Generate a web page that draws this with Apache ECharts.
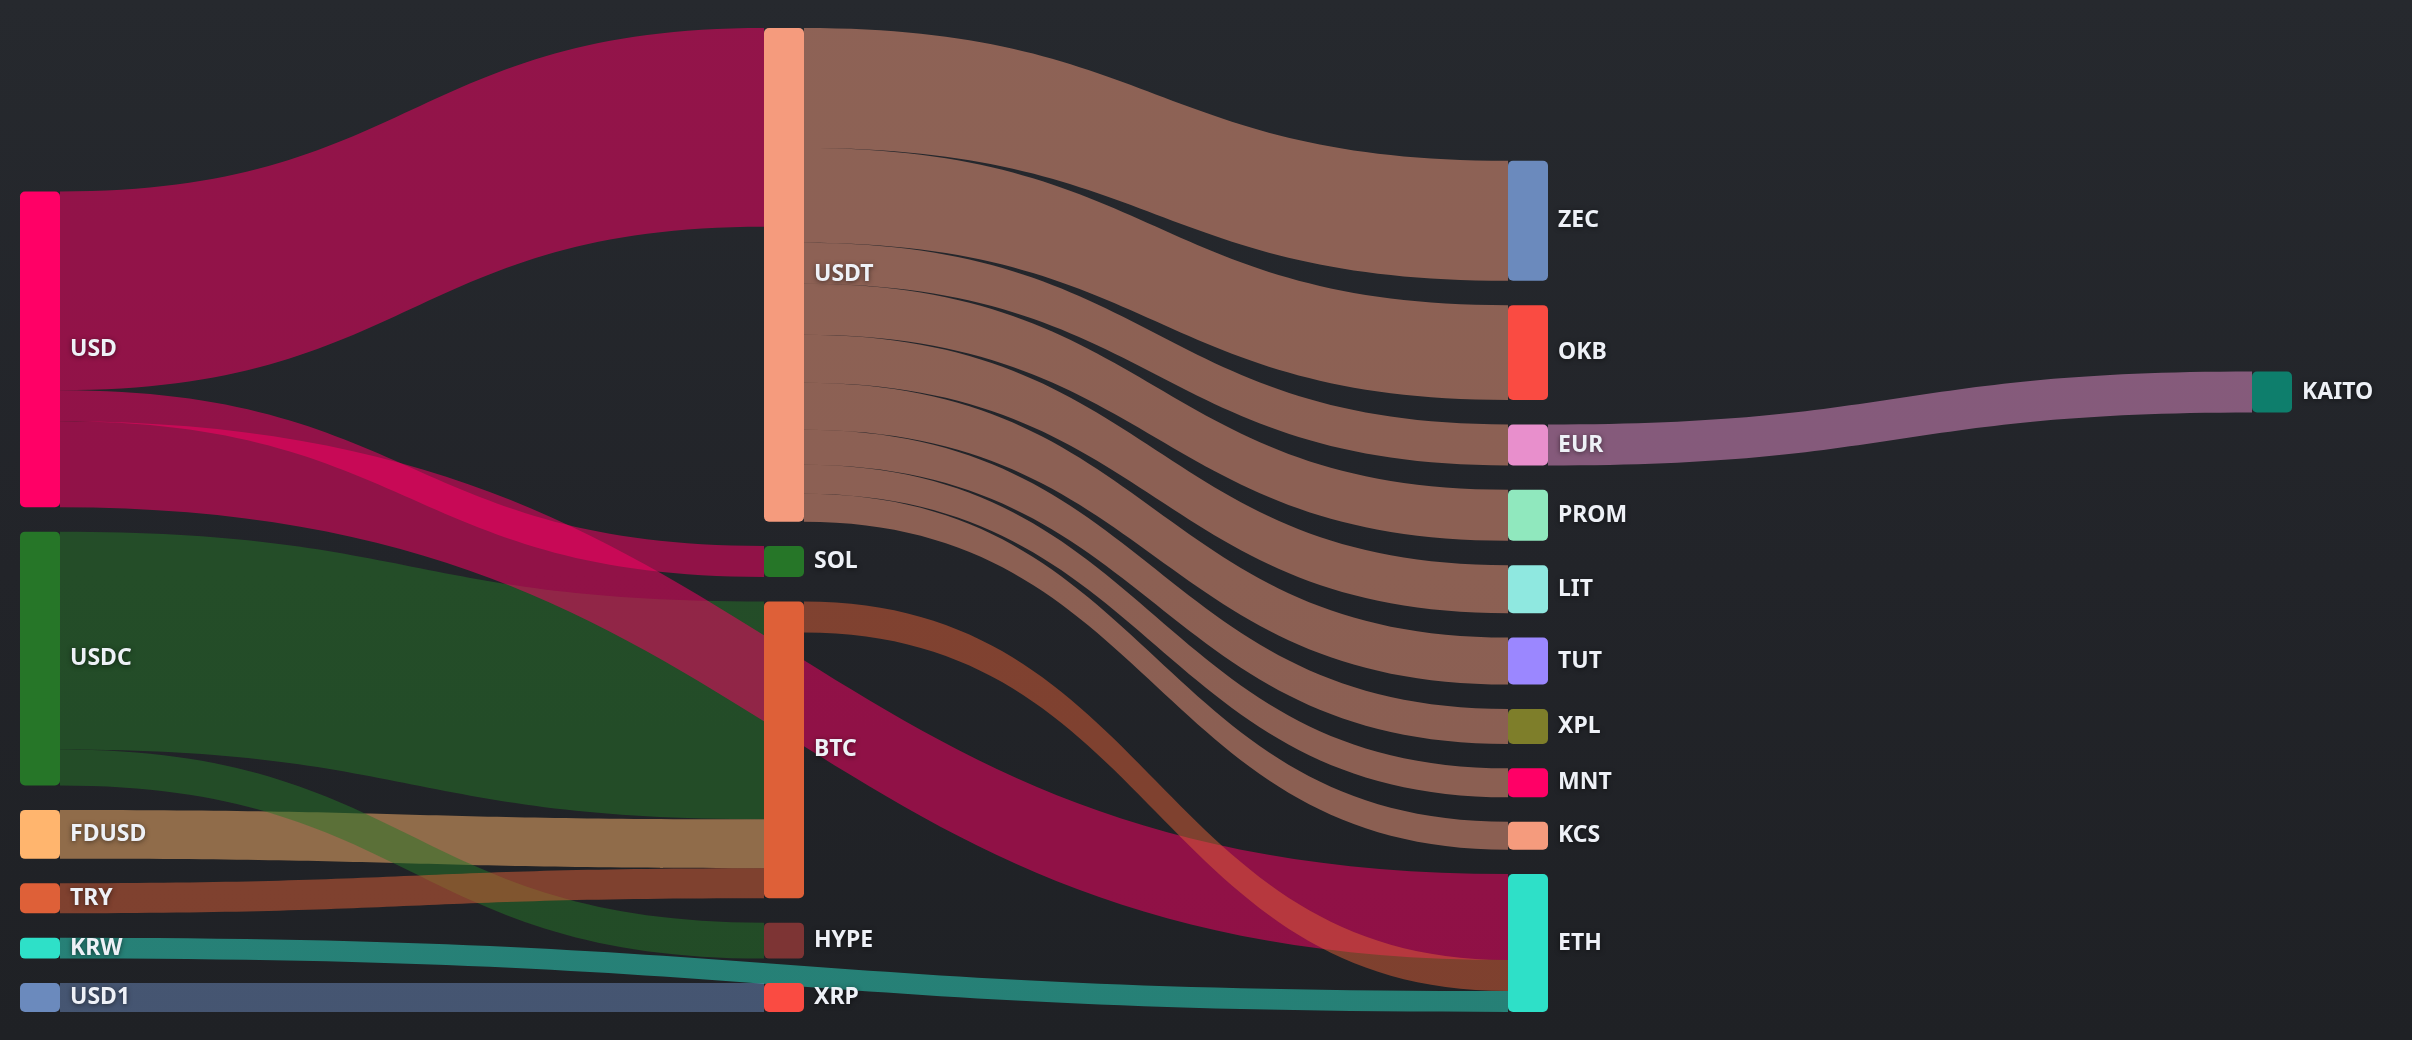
<!DOCTYPE html>
<html>
<head>
<meta charset="utf-8">
<title>Sankey</title>
<script src="https://cdn.jsdelivr.net/npm/echarts@6/dist/echarts.min.js"></script>
<style>
html, body { margin: 0; padding: 0; }
#main {
	width: 2412px;
	height: 1040px;
	background: linear-gradient(to bottom, #26292e 0%, #222429 55%, #1f2125 100%);
}
</style>
</head>
<body>
<div id="main"></div>
<script>
// 节点（按列顺序）
var nodeNames = ['USD', 'USDC', 'FDUSD', 'TRY', 'KRW', 'USD1',
	'USDT', 'SOL', 'BTC', 'HYPE', 'XRP',
	'ZEC', 'OKB', 'EUR', 'PROM', 'LIT', 'TUT', 'XPL', 'MNT', 'KCS', 'ETH',
	'KAITO'];

// 流向（按数值从大到小）
var linkSources = ['USDC', 'USD', 'USDT', 'USDT', 'USD', 'USDT', 'FDUSD', 'USDT', 'USDT', 'USDT',
	'EUR', 'USDC', 'USDT', 'USD', 'BTC', 'TRY', 'USDT', 'USD1', 'USDT', 'KRW'];
var linkTargets = ['BTC', 'USDT', 'ZEC', 'OKB', 'ETH', 'PROM', 'BTC', 'LIT', 'TUT', 'EUR',
	'KAITO', 'HYPE', 'XPL', 'SOL', 'ETH', 'BTC', 'MNT', 'XRP', 'KCS', 'ETH'];
var linkValues = [218, 199, 120, 95, 86, 51, 49, 48, 47, 41,
	41, 36, 35, 31, 31, 30, 29, 29, 28, 21];

// 节点颜色
var nodeColors = {
	USD: '#ff0066', USDC: '#267628', FDUSD: '#ffb56e', TRY: '#de6038', KRW: '#2ee0c8', USD1: '#6b8abd',
	USDT: '#f59b7d', SOL: '#267628', BTC: '#de6038', HYPE: '#7d3434', XRP: '#fa4b42',
	ZEC: '#6b8abd', OKB: '#fa4b42', EUR: '#e88fcc', PROM: '#90e8be', LIT: '#8fe8e0', TUT: '#9b87ff',
	XPL: '#7e7e2a', MNT: '#ff0066', KCS: '#f59b7d', ETH: '#2ee0c8', KAITO: '#0e7e6c'
};

function sankeyFn(chartsId) {
	var sankeyChart = echarts.init(document.getElementById(chartsId));
	var nodes = [];
	for (var i = 0; i < nodeNames.length; i++) {
		nodes.push({
			name: nodeNames[i],
			itemStyle: { color: nodeColors[nodeNames[i]] }
		});
	}
	var links = [];
	for (var j = 0; j < linkValues.length; j++) {
		links.push({ source: linkSources[j], target: linkTargets[j], value: linkValues[j] });
	}
	var option = {
		backgroundColor: 'transparent',
		animation: false,
		series: [{
			type: 'sankey',
			left: 20,
			top: 28,
			right: 120,
			bottom: 28,
			nodeWidth: 40,
			nodeGap: 24.4,
			nodeAlign: 'left',
			layoutIterations: 100,
			draggable: false,
			itemStyle: { borderWidth: 0, borderRadius: 5 },
			lineStyle: { color: 'source', opacity: 0.5, curveness: 0.5 },
			label: {
				position: 'right',
				distance: 10,
				color: '#eef1f7',
				fontFamily: 'Noto Sans',
				fontWeight: 'bold',
				fontSize: 23,
				textShadowColor: 'rgba(0,0,0,0.55)',
				textShadowBlur: 5,
				textShadowOffsetY: 1
			},
			data: nodes,
			links: links
		}]
	};
	// 为echarts对象加载数据
	sankeyChart.setOption(option);
}
sankeyFn('main');
</script>
</body>
</html>
